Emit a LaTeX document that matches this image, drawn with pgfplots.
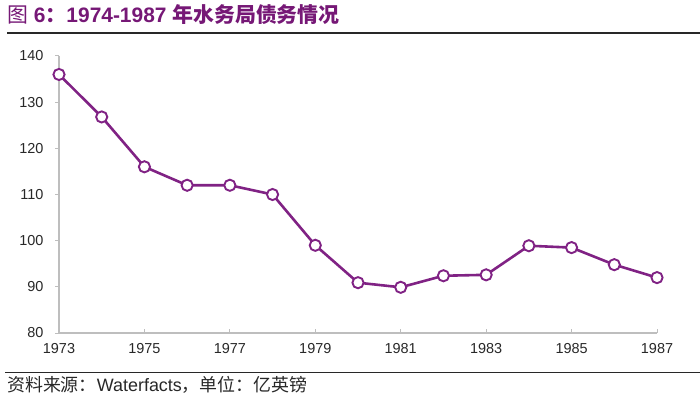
\documentclass[border=0pt]{standalone}
\usepackage{pgfplots}
\pgfplotsset{compat=1.18}
\usepackage{fontspec}
\setmainfont{Liberation Sans}
\newfontfamily\cjk{Noto Sans CJK SC}
\definecolor{ttl}{RGB}{118,24,118}
\definecolor{ln}{RGB}{128,34,132}
\definecolor{ax}{RGB}{190,190,190}
\definecolor{txt}{RGB}{40,40,40}
\begin{document}
\begin{tikzpicture}[x=1bp,y=1bp]
\path[use as bounding box] (0,0) rectangle (700,398);
\node[anchor=west, inner sep=0pt, text=ttl, font=\fontsize{21}{25}\selectfont] at (7,383)
  {{\cjk 图} \textbf{6}{\cjk\bfseries ：}\textbf{1974-1987} {\cjk\bfseries 年水务局债务情况}};
\draw[line width=1.3bp, txt] (7,365) -- (700,365);
\draw[line width=1.3bp, txt] (5,25.5) -- (700,25.5);
\node[anchor=west, inner sep=0pt, text=txt, font=\fontsize{18}{21}\selectfont] at (7,13)
  {{\cjk 资料来源：}Waterfacts{\cjk ，单位：亿英镑}};
\begin{axis}[
  at={(59bp,65bp)}, anchor=south west,
  scale only axis, width=598bp, height=277bp,
  xmin=1973, xmax=1987, ymin=80, ymax=140,
  axis x line=bottom, axis y line=left,
  axis line style={-, ax, line width=1.5bp},
  xtick={1973,1975,...,1987}, ytick={80,90,...,140},
  x tick style={ax, line width=1bp},
  y tick style={ax, line width=1bp},
  major tick length=4bp,
  xtick align=inside, ytick align=outside,
  tick label style={text=txt, font=\fontsize{14.5}{16}\selectfont},
  /pgf/number format/assume math mode=true,
  /pgf/number format/1000 sep={},
  xticklabel style={yshift=-7bp},
  yticklabel style={xshift=-8bp},
  clip=false,
]
\addplot[color=ln, line width=2.6bp, mark=*, mark size=5.6bp,
  mark options={fill=white, draw=ln, line width=1.9bp}]
coordinates {
(1973,136)(1974,126.8)(1975,116)(1976,112)(1977,112)(1978,110)(1979,99)
(1980,90.9)(1981,89.9)(1982,92.4)(1983,92.6)(1984,98.9)(1985,98.5)(1986,94.8)(1987,92)
};
\end{axis}
\end{tikzpicture}
\end{document}
